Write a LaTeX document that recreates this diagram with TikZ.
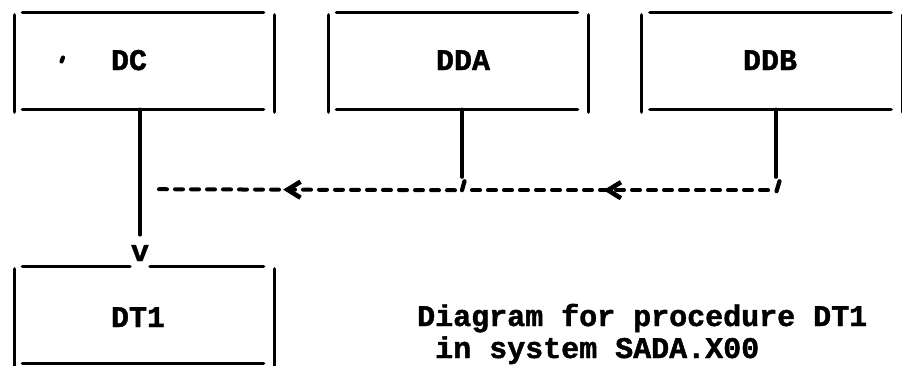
\documentclass[tikz,border=0pt]{standalone}
\usepackage{fontspec}
\setmonofont[BoldFeatures={FakeBold=1.5}]{Liberation Mono}
\usetikzlibrary{arrows.meta,calc,decorations.markings}
\begin{document}
\begin{tikzpicture}[x=1pt, y=-1pt, line cap=round, line join=round]
% Procedure diagram, typewriter style boxes
\providecommand{\diagLineColor}{black}
\providecommand{\diagLineWidth}{3.2pt}
\providecommand{\diagFlowWidth}{4pt}
\providecommand{\diagFont}{\ttfamily\bfseries\fontsize{30}{32}\selectfont}
\providecommand{\drawsides}[1]{%
  \draw[edge] ([yshift=-2pt]#1.north west) -- ([yshift=-3pt]#1.south west);
  \draw[edge] ([yshift=-2pt]#1.north east) -- ([yshift=-3pt]#1.south east);
  \draw[edge] ([xshift=8pt]#1.south west) -- ([xshift=-11pt]#1.south east);}
\providecommand{\drawtop}[1]{%
  \draw[edge] ([xshift=8pt]#1.north west) -- ([xshift=-11pt]#1.north east);}
\tikzset{
  blk/.style={minimum width=260pt, minimum height=96pt, inner sep=0pt},
  lbl/.style={font=\diagFont, inner sep=0pt, anchor=base},
  caption/.style={font=\diagFont, inner sep=0pt, anchor=base west},
  edge/.style={draw=\diagLineColor, line width=\diagLineWidth},
  tick/.style={draw=\diagLineColor, line width=4.2pt},
  flow/.style={draw=\diagLineColor, line width=\diagFlowWidth, dash pattern=on 8pt off 8pt},
  chevron/.style={postaction={decorate}, decoration={markings,
    mark=at position #1 with {\arrow{Straight Barb[length=13pt, width=16pt, line width=4.6pt]}}}},
}
\useasboundingbox (0,0) rectangle (902,365);
% Boxes
\node[blk] (dc)  at (144.5,61) {};
\node[blk] (dda) at (458.5,61) {};
\node[blk] (ddb) at (772,61) {};
\node[blk] (dt1) at (144.5,315) {};
\foreach \b in {dc,dda,ddb} {\drawtop{\b}}
\foreach \b in {dc,dda,ddb,dt1} {\drawsides{\b}}
% Labels
\node[lbl] (dclbl)  at (129,70) {DC};
\node[lbl] (ddalbl) at (463,70) {DDA};
\node[lbl] (ddblbl) at (770,70) {DDB};
\node[lbl] (dt1lbl) at (138,327) {DT1};
\node[lbl] (vtip)   at (140,261) {v};
\draw[tick] (63,57.5) -- (61.5,61.5);
% DT1 top line, broken at the arrow head
\draw[edge] ([xshift=8pt]dt1.north west) -- ($(dt1.north -| vtip)+(-10,0)$);
\draw[edge] ($(dt1.north -| vtip)+(10,0)$) -- ([xshift=-11pt]dt1.north east);
% Connectors
\coordinate (ddaknee) at ($(dda.south)+(3.5,68)$);
\coordinate (ddbknee) at ($(ddb.south)+(4,68)$);
\coordinate (dcjoin)  at ($(dc.south)+(9,80)$);
\draw[edge] ($(dc.south)+(-4.5,0)$) -- ([yshift=10pt]vtip.north);
\draw[edge] ($(dda.south)+(3.5,0)$) -- (ddaknee);
\draw[edge] ($(ddb.south)+(4,0)$) -- (ddbknee);
\draw[tick] ($(ddaknee)+(2.5,4)$) -- ($(ddaknee)+(0,13)$);
\draw[tick] ($(ddbknee)+(3.5,4)$) -- ($(ddbknee)+(0.5,14)$);
\draw[flow, chevron=0.55] ($(ddbknee)+(-8,13)$) -- ($(ddaknee)+(7,13)$);
\draw[flow, chevron=0.57] ($(ddaknee)+(-7,13)$) -- (dcjoin);
% Caption
\node[caption] (cap1) at (417,326) {Diagram for procedure DT1};
\node[caption] (cap2) at (435,358) {in system SADA.X00};
\end{tikzpicture}
\end{document}
